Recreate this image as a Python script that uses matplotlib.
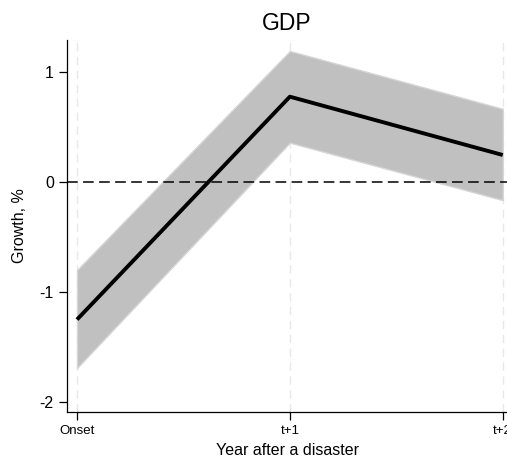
import matplotlib
matplotlib.use("Agg")
import matplotlib.pyplot as plt

plt.rcParams['font.family'] = ['Liberation Sans', 'DejaVu Sans']

# data
periods = ['Onset', 't+1', 't+2']
growth = [-1.25, 0.775, 0.245]
ci_low = [-1.69, 0.357, -0.165]
ci_high = [-0.80, 1.19, 0.665]
yticks = [-2, -1, 0, 1]

x = list(range(len(periods)))

fig = plt.figure(figsize=(5.07, 4.57), dpi=100)
ax = fig.add_axes([67 / 507, 45 / 457, 440 / 507, 372 / 457])

# light dashed verticals at each period
for xi in x:
    ax.axvline(xi, color='#e8e8e8', lw=1, ls=(0, (6, 4)), zorder=0)

ax.fill_between(x, ci_low, ci_high, facecolor='#c0c0c0', edgecolor='#d6d6d6', lw=1, zorder=1)
ax.plot(x, growth, color='black', lw=2.8, zorder=3, solid_capstyle='butt')
ax.axhline(0, color='black', lw=1.1, ls=(0, (7, 3.5)), zorder=2)

ax.set_xlim(-0.047, 2.02)
ax.set_ylim(-2.09, 1.29)
ax.set_xticks(x)
ax.set_xticklabels(periods, fontsize=9.5)
ax.set_yticks(yticks)
ax.set_yticklabels([str(v) for v in yticks], fontsize=11.5)
ax.tick_params(axis='both', length=6, width=0.9, color='black')

for s in ['top', 'right']:
    ax.spines[s].set_visible(False)
ax.spines['left'].set_linewidth(0.9)
ax.spines['bottom'].set_linewidth(0.9)

ax.set_title('GDP', fontsize=16.5, pad=7)
ax.set_xlabel('Year after a disaster', fontsize=11.5, labelpad=4)
ax.set_ylabel('Growth, %', fontsize=11.5, labelpad=9)

fig.savefig('out.png', dpi=100)
